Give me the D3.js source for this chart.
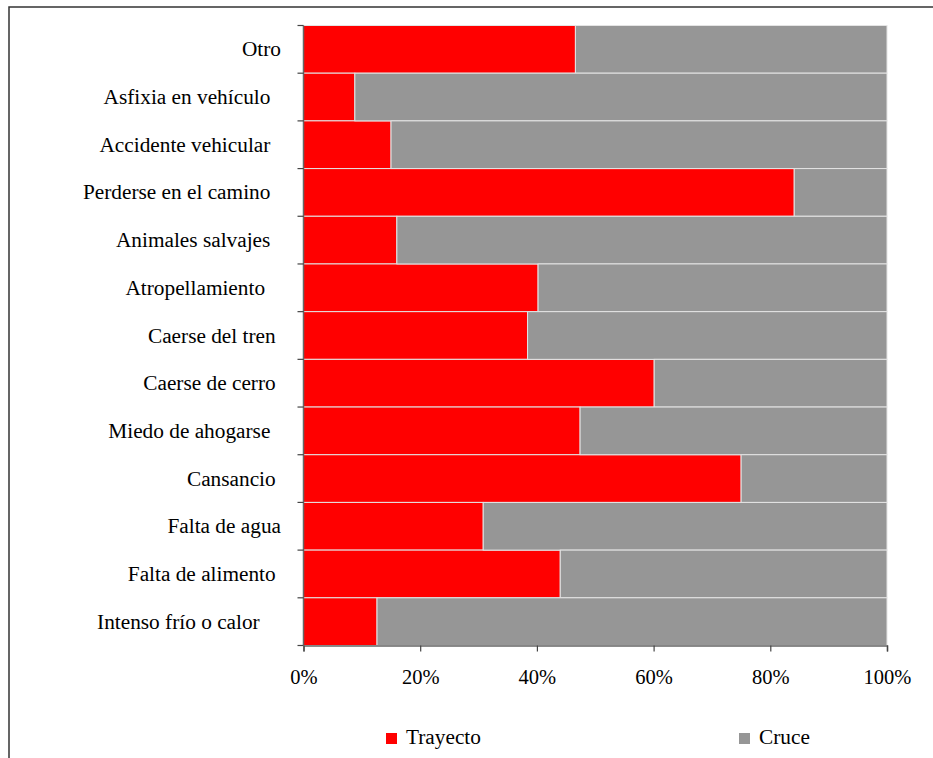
<!DOCTYPE html>
<meta charset="utf-8">
<script src="https://d3js.org/d3.v7.min.js"></script>
<style>
  body { margin: 0; background: #fff; }
  svg text { font-family: 'Liberation Serif', Tinos, 'Times New Roman', Times, 'DejaVu Serif', serif; fill: #000; white-space: pre; }
</style>
<div id="my_dataviz"></div>
<script>

// categories top to bottom (trailing spaces kept as in the original labels)
var categories = ["Otro", "Asfixia en vehículo  ", "Accidente vehicular  ", "Perderse en el camino  ",
  "Animales salvajes  ", "Atropellamiento   ", "Caerse del tren ", "Caerse de cerro ",
  "Miedo de ahogarse  ", "Cansancio ", "Falta de agua", "Falta de alimento ", "Intenso frío o calor    "];

// share of "Trayecto" in percent, the rest is "Cruce"
var trayecto = [46.6, 8.8, 15.0, 84.1, 16.0, 40.2, 38.4, 60.1, 47.4, 75.0, 30.8, 44.0, 12.6];
var cruce = trayecto.map(function(d) { return 100 - d; });

var seriesNames = ["Trayecto", "Cruce"];
var colors = ["#ff0000", "#969696"];
var xTicks = [0, 20, 40, 60, 80, 100];

var W = 933, H = 758;
var margin = {top: 25.5, left: 303.5, right: 46, bottom: 112.5};

var svg = d3.select("#my_dataviz").append("svg")
  .attr("width", W).attr("height", H);

// outer frame
svg.append("path")
  .attr("d", "M9,770V7H940")
  .attr("fill", "none").attr("stroke", "#333").attr("stroke-width", 1.5);

var x = d3.scaleLinear().domain([0, 100]).range([margin.left, W - margin.right]);
var y = d3.scaleBand().domain(categories).range([margin.top, H - margin.bottom]).padding(0);

var rows = categories.map(function(c, i) {
  return {cat: c, Trayecto: trayecto[i], Cruce: cruce[i]};
});
var stack = d3.stack().keys(seriesNames)(rows);

svg.append("g").selectAll("g")
  .data(stack)
  .enter().append("g")
    .attr("fill", function(d, i) { return colors[i]; })
  .selectAll("rect")
  .data(function(d) { return d; })
  .enter().append("rect")
    .attr("x", function(d) { return x(d[0]); })
    .attr("width", function(d) { return x(d[1]) - x(d[0]); })
    .attr("y", function(d) { return y(d.data.cat); })
    .attr("height", y.bandwidth())
    .attr("stroke", "#e4e4e4")
    .attr("stroke-width", 1);

// y axis: line + ticks at band boundaries
var yAxis = svg.append("g");
yAxis.append("line")
  .attr("x1", margin.left).attr("x2", margin.left)
  .attr("y1", margin.top).attr("y2", H - margin.bottom)
  .attr("stroke", "#666").attr("stroke-width", 1.5);
var bounds = categories.map(function(c) { return y(c); }).concat([H - margin.bottom]);
yAxis.selectAll(".ytick").data(bounds).enter().append("line")
  .attr("x1", margin.left - 6).attr("x2", margin.left)
  .attr("y1", function(d) { return d; }).attr("y2", function(d) { return d; })
  .attr("stroke", "#444").attr("stroke-width", 1.2);
yAxis.selectAll(".ylab").data(categories).enter().append("text")
  .attr("x", 281)
  .attr("y", function(d) { return y(d) + y.bandwidth() / 2; })
  .attr("dy", "0.33em")
  .attr("text-anchor", "end")
  .style("font-size", "21.3px")
  .text(function(d) { return d; });

// x axis
var xAxis = svg.append("g")
  .attr("transform", "translate(0," + (H - margin.bottom) + ")")
  .call(d3.axisBottom(x).tickValues(xTicks).tickSize(6).tickPadding(18)
    .tickFormat(function(d) { return d + "%"; }));
xAxis.attr("font-family", null).attr("font-size", null);
xAxis.select(".domain").attr("stroke", "#666").attr("stroke-width", 1.5);
xAxis.selectAll(".tick line").attr("stroke", "#444").attr("stroke-width", 1.2);
xAxis.selectAll(".tick text")
  .style("font-size", "20.5px")
  .attr("fill", "#000");

// legend
var legendX = [386, 739];
var legend = svg.append("g").selectAll("g")
  .data(seriesNames).enter().append("g")
  .attr("transform", function(d, i) { return "translate(" + legendX[i] + ",733)"; });
legend.append("rect")
  .attr("width", 11).attr("height", 11)
  .attr("fill", function(d, i) { return colors[i]; });
legend.append("text")
  .attr("x", 20).attr("y", 10.5)
  .style("font-size", "21.3px")
  .text(function(d) { return d; });

</script>
